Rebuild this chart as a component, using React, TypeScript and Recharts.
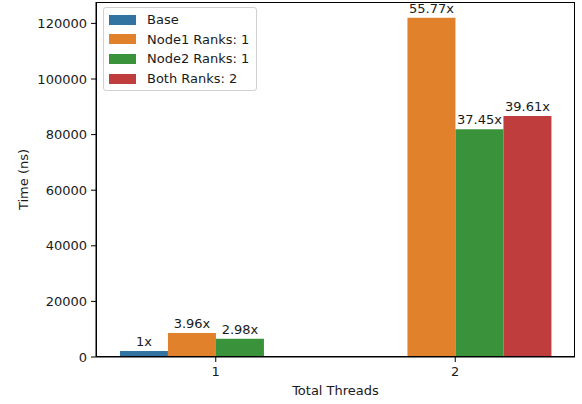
import React from "react";
import { BarChart, Bar, XAxis, YAxis, LabelList } from "recharts";

const categories = ["1", "2"];
const baseValues = [2188, null];
const node1Values = [8665, 122030];
const node2Values = [6520, 81940];
const bothValues = [null, 86670];
const baseLabels = ["1x", ""];
const node1Labels = ["3.96x", "55.77x"];
const node2Labels = ["2.98x", "37.45x"];
const bothLabels = ["", "39.61x"];
const yTicks = [0, 20000, 40000, 60000, 80000, 100000, 120000];

const seriesNames = ["Base", "Node1 Ranks: 1", "Node2 Ranks: 1", "Both Ranks: 2"];
const seriesKeys = ["base", "node1", "node2", "both"];
const colors = ["#3274a1", "#e1812c", "#3a923a", "#c03d3e"];

const data = categories.map((c, i) => ({
  cat: c,
  base: baseValues[i],
  node1: node1Values[i],
  node2: node2Values[i],
  both: bothValues[i],
  baseLabel: baseLabels[i],
  node1Label: node1Labels[i],
  node2Label: node2Labels[i],
  bothLabel: bothLabels[i],
}));

const FONT = "'DejaVu Sans', sans-serif";
const TEXT = "#1a1a1a";
const FS = 13;

const LegendBox = () => (
  <div
    style={{
      position: "absolute",
      left: 103,
      top: 7,
      border: "1px solid #d0d0d0",
      borderRadius: 3,
      background: "rgba(255,255,255,0.8)",
      padding: "2px 7px 2px 5px",
      fontFamily: FONT,
      fontSize: FS,
      color: TEXT,
      pointerEvents: "none",
    }}
  >
    {seriesNames.map((n, i) => (
      <div key={n} style={{ display: "flex", alignItems: "center", height: 19.6 }}>
        <div style={{ width: 27, height: 10, background: colors[i], marginRight: 11 }} />
        <span>{n}</span>
      </div>
    ))}
  </div>
);

export default function App() {
  return (
    <div style={{ position: "relative", width: 582, height: 404, background: "#fff" }}>
      <style>{"body{margin:0;}"}</style>
      <BarChart
        width={582}
        height={404}
        data={data}
        margin={{ top: 2, right: 7, left: 0, bottom: 0 }}
        barCategoryGap="10%"
        barGap={0}
      >
        <XAxis
          dataKey="cat"
          height={47}
          tickLine={{ stroke: "#000" }}
          axisLine={{ stroke: "#000" }}
          tickSize={5}
          tickMargin={5}
          tick={{ fill: TEXT, fontFamily: FONT, fontSize: FS }}
          label={{
            value: "Total Threads",
            position: "insideBottom",
            offset: 9,
            style: { fill: TEXT, fontFamily: FONT, fontSize: FS },
          }}
        />
        <YAxis
          width={96}
          domain={[0, 127700]}
          ticks={yTicks}
          allowDataOverflow
          tickLine={{ stroke: "#000" }}
          axisLine={{ stroke: "#000" }}
          tickSize={5}
          tickMargin={4}
          tick={{ fill: TEXT, fontFamily: FONT, fontSize: FS }}
          label={{
            value: "Time (ns)",
            angle: -90,
            position: "insideLeft",
            offset: 23,
            style: { textAnchor: "middle", fill: TEXT, fontFamily: FONT, fontSize: FS },
          }}
        />
        {seriesKeys.map((k, i) => (
          <Bar key={k} dataKey={k} name={seriesNames[i]} fill={colors[i]} isAnimationActive={false}>
            <LabelList
              dataKey={k + "Label"}
              position="top"
              offset={5}
              style={{ fill: TEXT, fontFamily: FONT, fontSize: FS }}
            />
          </Bar>
        ))}
      </BarChart>
      <div
        style={{
          position: "absolute",
          left: 96,
          top: 2,
          width: 479,
          height: 355,
          border: "1px solid #000",
          boxSizing: "border-box",
          pointerEvents: "none",
        }}
      />
      <LegendBox />
    </div>
  );
}
